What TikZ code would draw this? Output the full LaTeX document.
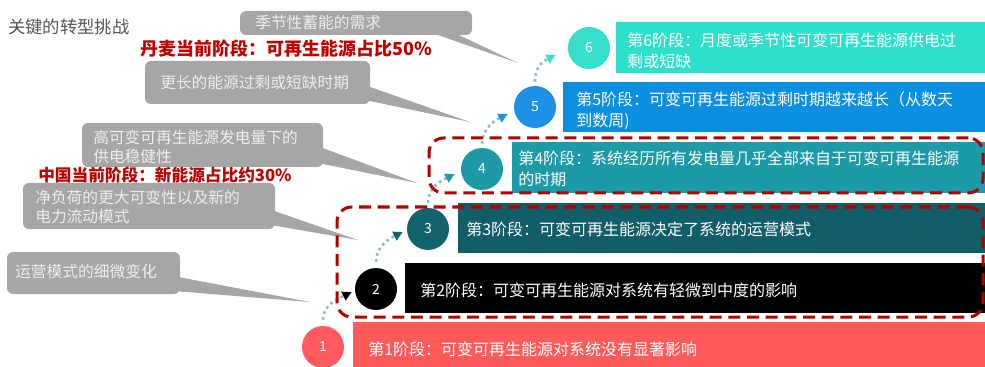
\documentclass[tikz,border=0pt]{standalone}
\usepackage{fontspec}
\setmainfont{Noto Sans CJK SC}
\usetikzlibrary{fit,calc,arrows.meta}
\definecolor{st1}{HTML}{FF5A5A}
\definecolor{st2}{HTML}{000000}
\definecolor{st3}{HTML}{115E68}
\definecolor{st4}{HTML}{1C9AA7}
\definecolor{st5}{HTML}{0B8FE0}
\definecolor{st6}{HTML}{2EE0CB}
\definecolor{ci1}{HTML}{FF5A60}
\definecolor{ci3}{HTML}{13636D}
\definecolor{ci4}{HTML}{1E9AA6}
\definecolor{ci5}{HTML}{1E90E6}
\definecolor{ci6}{HTML}{34E0CB}
\definecolor{callgray}{HTML}{A6A6A6}
\definecolor{calltext}{HTML}{EEEEEE}
\definecolor{redtxt}{HTML}{C00000}
\definecolor{redline}{HTML}{B00000}
\definecolor{flowblue}{HTML}{8DBCCC}
\definecolor{titlegray}{HTML}{555555}
\begin{document}
\begin{tikzpicture}[x=0.75pt,y=-0.75pt,
  stagebox/.style={inner sep=0pt, draw=none},
  stagetext/.style={anchor=west, text=white, inner sep=0pt, align=left, font=\fontsize{12pt}{15.8pt}\selectfont},
  stagecirc/.style={circle, inner sep=0pt, minimum size=31.5pt, text=white, font=\fontsize{10.5pt}{12pt}\selectfont},
  callbox/.style={inner sep=0pt, fill=callgray, rounded corners=4.5pt},
  calltxt/.style={anchor=west, text=calltext, inner sep=0pt, align=left, font=\fontsize{11.8pt}{14.6pt}\selectfont},
  redlabel/.style={anchor=west, text=redtxt, inner sep=0pt, font=\bfseries},
  flow/.style={draw=flowblue, line width=2pt, dash pattern=on 2pt off 2.5pt},
  redbox/.style={draw=redline, line width=2.25pt, dash pattern=on 9pt off 5pt, rounded corners=11pt, inner sep=0pt}
]
\useasboundingbox (0,0) rectangle (985,367);

% title
\node[anchor=west, inner sep=0pt, text=titlegray, font=\fontsize{13pt}{15pt}\selectfont] (title) at (8,27) {关键的转型挑战};

% stage boxes
\node[stagebox, fill=st1, fit={(353,322)(985,368)}] (s1) {};
\node[stagebox, fill=st2, fit={(405,263)(985,313)}] (s2) {};
\node[stagebox, fill=st3, fit={(458,203)(985,253)}] (s3) {};
\node[stagebox, fill=st4, fit={(512,142)(985,193)}] (s4) {};
\node[stagebox, fill=st5, fit={(563,82)(985,132)}] (s5) {};
\node[stagebox, fill=st6, fit={(616,22)(985,73)}] (s6) {};

\node[stagetext] (t1) at (368,349) {第1阶段：可变可再生能源对系统没有显著影响};
\node[stagetext] (t2) at (420,290) {第2阶段：可变可再生能源对系统有轻微到中度的影响};
\node[stagetext] (t3) at (466,229) {第3阶段：可变可再生能源决定了系统的运营模式};
\node[stagetext] (t4) at (518,169) {第4阶段：系统经历所有发电量几乎全部来自于可变可再生能源\\的时期};
\node[stagetext] (t5) at (576,111) {第5阶段：可变可再生能源过剩时期越来越长（从数天\\到数周)};
\node[stagetext] (t6) at (627,51) {第6阶段：月度或季节性可变可再生能源供电过\\剩或短缺};

% circles
\node[stagecirc, fill=ci1] (c1) at (323,347) {1};
\node[stagecirc, fill=st2] (c2) at (376,289) {2};
\node[stagecirc, fill=ci3] (c3) at (428,229) {3};
\node[stagecirc, fill=ci4] (c4) at (482,169) {4};
\node[stagecirc, fill=ci5] (c5) at (535,107) {5};
\node[stagecirc, fill=ci6] (c6) at (589,48) {6};

% flow arrows
\draw[flow, -{Triangle[length=7pt,width=7pt,color=st2]}] ($(c1.north)+(0,-6)$) .. controls +(0,-16) and +(-12,6) .. ($(c2.west)+(-3,3)$);
\draw[flow, -{Triangle[length=7pt,width=7pt,color=ci3]}] ($(c2.north)+(0,-6)$) .. controls +(0,-16) and +(-12,6) .. ($(c3.west)+(-4,3)$);
\draw[flow, -{Triangle[length=7pt,width=7pt,color=ci4]}] ($(c3.north)+(0,-5)$) .. controls +(0,-16) and +(-12,6) .. ($(c4.west)+(-6,5)$);
\draw[flow, -{Triangle[length=7pt,width=7pt,color=ci5]}] ($(c4.north)+(0,-4)$) .. controls +(0,-16) and +(-12,6) .. ($(c5.west)+(-6,7)$);
\draw[flow, -{Triangle[length=7pt,width=7pt,color=ci6]}] ($(c5.north)+(0,-4)$) .. controls +(0,-16) and +(-12,6) .. ($(c6.west)+(-12,7)$);

% callout tails
\coordinate (tipA) at (518,63);
\coordinate (tipB) at (470,122);
\coordinate (tipC) at (417,183);
\coordinate (tipD) at (358,240);
\coordinate (tipE) at (310,302);
\node[callbox, fit={(240,11)(472,35)}] (cA) {};
\node[callbox, fit={(145,61)(370,104)}] (cB) {};
\node[callbox, fit={(82,123)(323,167)}] (cC) {};
\node[callbox, fit={(23,183)(275,229)}] (cD) {};
\node[callbox, fit={(7,252)(180,294)}] (cE) {};
\fill[callgray] ($(cA.south east)+(-45,-4)$) -- ($(cA.south east)+(-15,-1)$) -- (tipA) -- cycle;
\fill[callgray] ($(cB.south east)+(-8,-20)$) -- ($(cB.south east)+(-4,-4)$) -- (tipB) -- cycle;
\fill[callgray] ($(cC.south east)+(-8,-22)$) -- ($(cC.south east)+(-4,-4)$) -- (tipC) -- cycle;
\fill[callgray] ($(cD.south east)+(-6,-20)$) -- ($(cD.south east)+(-3,-4)$) -- (tipD) -- cycle;
\fill[callgray] ($(cE.south east)+(-6,-18)$) -- ($(cE.south east)+(-3,-3)$) -- (tipE) -- cycle;

\node[calltxt] (lA) at (255,23) {季节性蓄能的需求};
\node[calltxt] (lB) at (160,83) {更长的能源过剩或短缺时期};
\node[calltxt] (lC) at (93,147) {高可变可再生能源发电量下的\\供电稳健性};
\node[calltxt] (lD) at (35,207) {净负荷的更大可变性以及新的\\电力流动模式};
\node[calltxt] (lE) at (15,271) {运营模式的细微变化};

% red labels
\node[redlabel, font=\bfseries\fontsize{13.5pt}{15pt}\selectfont] (dk) at (140,49) {丹麦当前阶段：可再生能源占比50\%};
\node[redlabel, font=\bfseries\fontsize{12.5pt}{14pt}\selectfont] (cn) at (38,175) {中国当前阶段：新能源占比约30\%};

% dashed groups
\node[redbox, fit={(337,207)(983,317)}] (g1) {};
\node[redbox, fit={(429,138)(983,193)}] (g2) {};
\end{tikzpicture}
\end{document}
